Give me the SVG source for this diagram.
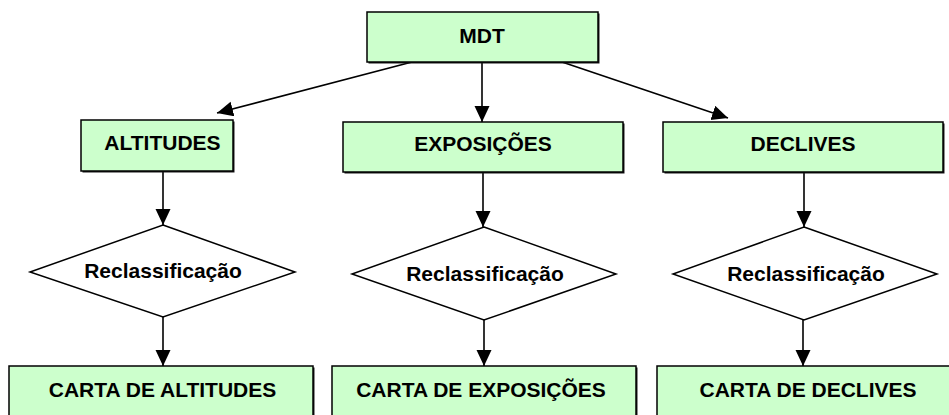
<svg xmlns="http://www.w3.org/2000/svg" width="949" height="415" viewBox="0 0 949 415">
<defs>
<marker id="ah" markerUnits="userSpaceOnUse" markerWidth="17" markerHeight="16" refX="16" refY="7.5" orient="auto">
<path d="M0,0 L16,7.5 L0,15 z" fill="#000"/>
</marker>
<style>
.box{fill:#CCFFCC;stroke:#000;stroke-width:1.5}
.sh{fill:#1a1a1a}
.dia{fill:#fff;stroke:#000;stroke-width:1.5}
.t{font-family:"Liberation Sans",Arial,sans-serif;font-weight:bold;font-size:21px;fill:#000;text-anchor:middle}
.c{stroke:#000;stroke-width:1.6;fill:none;marker-end:url(#ah)}
</style>
</defs>
<rect width="949" height="415" fill="#fff"/>
<g id="connectors">
<path class="c" d="M412,62 L217,113"/>
<path class="c" d="M482,62 L482,122"/>
<path class="c" d="M562,62 L728,118"/>
<path class="c" d="M163,171 L163,225"/>
<path class="c" d="M163,317 L163,366"/>
<path class="c" d="M483,172 L483,227"/>
<path class="c" d="M484,320 L484,366"/>
<path class="c" d="M804,172 L804,227"/>
<path class="c" d="M803,320 L803,366"/>
</g>
<g id="mdt">
<rect class="sh" x="368.5" y="13.5" width="231" height="50"/>
<rect class="box" x="367" y="12" width="231" height="50"/>
<text class="t" x="482" y="43">MDT</text>
</g>
<g id="altitudes">
<rect class="sh" x="82.5" y="121.5" width="152" height="51"/>
<rect class="box" x="81" y="120" width="152" height="51"/>
<text class="t" x="162.5" y="150">ALTITUDES</text>
</g>
<g id="exposicoes">
<rect class="sh" x="344.5" y="123.5" width="280" height="50"/>
<rect class="box" x="343" y="122" width="280" height="50"/>
<text class="t" x="483" y="151">EXPOSIÇÕES</text>
</g>
<g id="declives">
<rect class="sh" x="664.5" y="123.5" width="280" height="50"/>
<rect class="box" x="663" y="122" width="280" height="50"/>
<text class="t" x="803" y="151">DECLIVES</text>
</g>
<g id="reclass1">
<polygon class="dia" points="163,225 295,272 163,317 30,272"/>
<text class="t" x="163" y="278">Reclassificação</text>
</g>
<g id="reclass2">
<polygon class="dia" points="484,227 616,274 484,320 352,274"/>
<text class="t" x="485" y="281">Reclassificação</text>
</g>
<g id="reclass3">
<polygon class="dia" points="804,227 937,274 804,320 673,274"/>
<text class="t" x="806" y="281">Reclassificação</text>
</g>
<g id="carta-altitudes">
<rect class="sh" x="10.5" y="367.5" width="304" height="60"/>
<rect class="box" x="9" y="366" width="304" height="60"/>
<text class="t" x="162.5" y="397">CARTA DE ALTITUDES</text>
</g>
<g id="carta-exposicoes">
<rect class="sh" x="333.5" y="367.5" width="304" height="60"/>
<rect class="box" x="332" y="366" width="304" height="60"/>
<text class="t" x="481" y="397">CARTA DE EXPOSIÇÕES</text>
</g>
<g id="carta-declives">
<rect class="sh" x="658.5" y="367.5" width="304" height="60"/>
<rect class="box" x="657" y="366" width="304" height="60"/>
<text class="t" x="808" y="397">CARTA DE DECLIVES</text>
</g>
</svg>
